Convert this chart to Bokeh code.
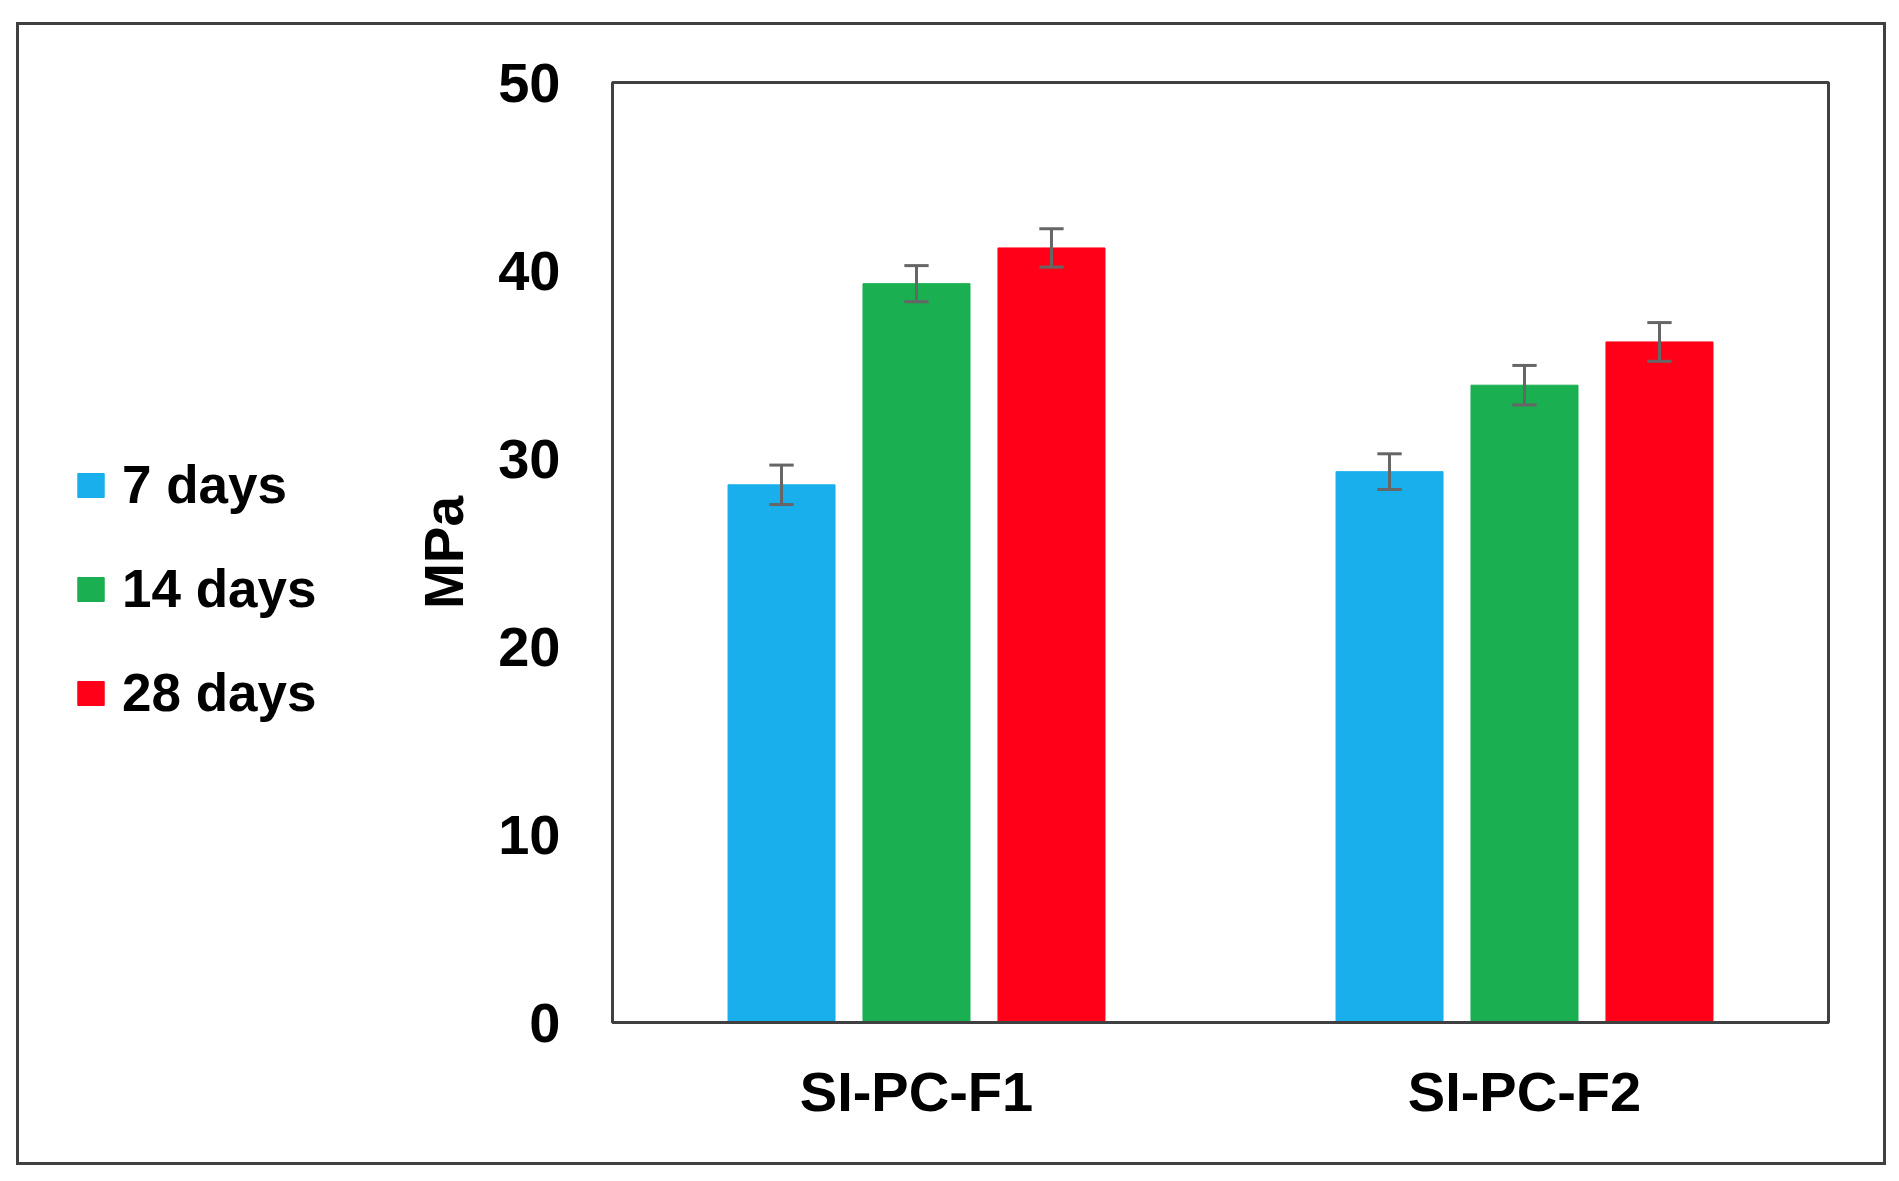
import numpy as np
from bokeh.plotting import figure
from bokeh.models import ColumnDataSource, FactorRange, Legend, LegendItem, FixedTicker, Spacer
from bokeh.layouts import row, column
from bokeh.transform import dodge
from bokeh.embed import file_html
from bokeh.resources import INLINE

# ---- data ----
categories = ["SI-PC-F1", "SI-PC-F2"]
series_names = ["7 days", "14 days", "28 days"]
values_7 = [28.6, 29.3]
values_14 = [39.3, 33.9]
values_28 = [41.2, 36.2]
err_7 = [1.05, 0.95]
err_14 = [0.96, 1.05]
err_28 = [1.02, 1.03]
y_ticks = [0, 10, 20, 30, 40, 50]

colors = ["#19AFEC", "#1AAF50", "#FF0018"]
offsets = [-0.222, 0.0, 0.222]
FONT = "Liberation Sans"

data = dict(cat=categories)
for key, vals, errs in (("v7", values_7, err_7), ("v14", values_14, err_14), ("v28", values_28, err_28)):
    data[key] = vals
    data[key + "_lo"] = [v - e for v, e in zip(vals, errs)]
    data[key + "_hi"] = [v + e for v, e in zip(vals, errs)]
source = ColumnDataSource(data)

TOTAL_W, TOTAL_H = 1864, 1137
LEG_W = 330

p = figure(
    x_range=FactorRange(*categories, range_padding=0),
    y_range=(0, 50),
    width=TOTAL_W - LEG_W, height=TOTAL_H,
    output_backend="svg", toolbar_location=None,
    min_border_left=263, min_border_right=55, min_border_top=57, min_border_bottom=140,
)
p.grid.visible = False
p.outline_line_color = "#404040"
p.outline_line_width = 3
p.background_fill_color = "white"
p.border_fill_color = "white"

for key, col, off in zip(("v7", "v14", "v28"), colors, offsets):
    p.vbar(x=dodge("cat", off, range=p.x_range), top=key, width=0.176, bottom=0,
           source=source, fill_color=col, line_color=col, line_width=1)
    p.segment(x0=dodge("cat", off, range=p.x_range), x1=dodge("cat", off, range=p.x_range),
              y0=key + "_lo", y1=key + "_hi", source=source, line_color="#666666", line_width=3)
    for end in ("_lo", "_hi"):
        p.segment(x0=dodge("cat", off - 0.02, range=p.x_range), x1=dodge("cat", off + 0.02, range=p.x_range),
                  y0=key + end, y1=key + end, source=source, line_color="#666666", line_width=3)

# axes
p.yaxis.ticker = FixedTicker(ticks=y_ticks)
p.yaxis.axis_line_color = None
p.yaxis.major_tick_line_color = None
p.yaxis.minor_tick_line_color = None
p.yaxis.major_tick_out = 0
p.yaxis.major_label_standoff = 52
p.yaxis.major_label_text_font = FONT
p.yaxis.major_label_text_font_style = "bold"
p.yaxis.major_label_text_font_size = "56px"
p.yaxis.major_label_text_color = "black"
p.yaxis.axis_label = "MPa"
p.yaxis.axis_label_text_font = FONT
p.yaxis.axis_label_text_font_style = "bold"
p.yaxis.axis_label_text_font_size = "55px"
p.yaxis.axis_label_text_color = "black"
p.yaxis.axis_label_standoff = 20

p.xaxis.axis_line_color = "#404040"
p.xaxis.axis_line_width = 3
p.xaxis.major_tick_line_color = None
p.xaxis.minor_tick_line_color = None
p.xaxis.major_tick_out = 0
p.xaxis.major_label_standoff = 37
p.xaxis.major_label_text_font = FONT
p.xaxis.major_label_text_font_style = "bold"
p.xaxis.major_label_text_font_size = "56px"
p.xaxis.major_label_text_color = "black"

# legend panel (separate figure on the left, inside the outer frame)
lf = figure(width=LEG_W, height=TOTAL_H, x_range=(0, 1), y_range=(0, 1),
            output_backend="svg", toolbar_location=None,
            min_border=0, min_border_left=0, min_border_right=0, min_border_top=0, min_border_bottom=0)
lf.axis.visible = False
lf.grid.visible = False
lf.outline_line_color = None
lf.background_fill_color = "white"
lf.border_fill_color = "white"
# swatch renderers carry no drawable data (NaN); only their legend swatches show
swatch = ColumnDataSource(dict(x=np.array([np.nan]), top=np.array([np.nan])))
items = []
for name, col in zip(series_names, colors):
    r = lf.vbar(x="x", top="top", width=0.1, source=swatch, fill_color=col, line_color=col)
    items.append(LegendItem(label=name, renderers=[r]))

legend = Legend(items=items, location=(55, 299))
legend.background_fill_alpha = 0
legend.border_line_color = None
legend.padding = 0
legend.margin = 0
legend.glyph_width = 33
legend.glyph_height = 30
legend.label_standoff = 15
legend.spacing = 43
legend.label_text_font = FONT
legend.label_text_font_style = "bold"
legend.label_text_font_size = "53px"
legend.label_text_color = "black"
lf.add_layout(legend, "center")

framed = row(lf, p, spacing=0,
             styles={"border": "3px solid #404040", "background-color": "white"})
layout = column(Spacer(width=10, height=22),
                row(Spacer(width=16, height=10), framed, spacing=0),
                spacing=0)

open("out.html", "w").write(file_html(layout, INLINE))
